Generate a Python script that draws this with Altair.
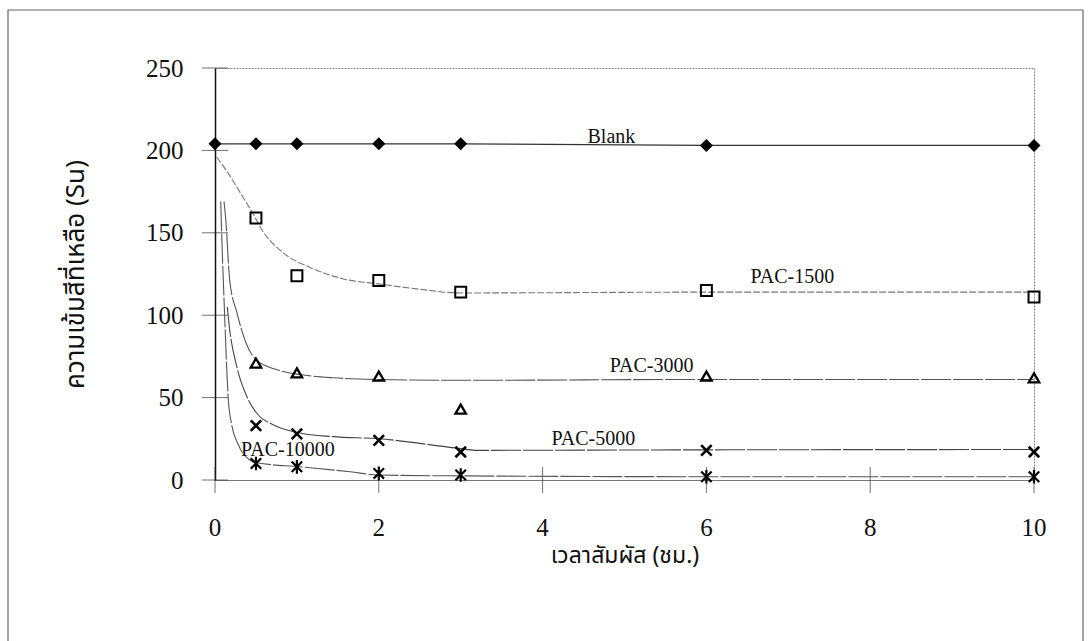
import altair as alt
import pandas as pd

# ---- data ----
time_blank = [0, 0.5, 1, 2, 3, 6, 10]
blank = [204, 204, 204, 204, 204, 203, 203]

time_pac = [0.5, 1, 2, 3, 6, 10]
pac1500 = [159, 124, 121, 114, 115, 111]
pac3000 = [71, 65, 63, 43, 63, 62]
pac5000 = [33, 28, 24, 17, 18, 17]
pac10000 = [10, 8, 4, 3, 2, 2]

# trend curves
c1500_t = [0.02, 0.15, 0.3, 0.46, 0.57, 0.83, 1.16, 1.57, 2.0, 2.46, 3.0, 6.0, 10.0]
c1500_v = [196, 187, 175, 162, 152, 138, 129, 122, 119, 116, 113.5, 114, 114]
c3000_t = [0.11, 0.13, 0.18, 0.265, 0.38, 0.5, 0.75, 1.04, 1.45, 2.0, 3.0, 6.0, 10.0]
c3000_v = [169, 159, 121, 102, 83, 73, 67, 64, 62, 61, 60.5, 61, 61]
c5000_t = [0.15, 0.18, 0.265, 0.39, 0.51, 0.71, 1.04, 1.44, 2.0, 2.93, 3.2, 6.0, 10.0]
c5000_v = [105, 91, 69, 50.5, 40.5, 33.5, 28.5, 26.3, 25, 19.5, 18, 18.3, 18.5]
c10000_t = [0.07, 0.08, 0.12, 0.14, 0.16, 0.2, 0.28, 0.43, 0.51, 1.04, 1.65, 2.0, 3.0, 6.0, 10.0]
c10000_v = [169, 152, 97, 71, 50.5, 34.5, 22, 12, 10.5, 8, 5, 3, 2.5, 2, 2]

lab_text = ["Blank", "PAC-1500", "PAC-3000", "PAC-5000", "PAC-10000"]
lab_t = [4.84, 7.05, 5.33, 4.62, 0.89]
lab_v = [208, 123, 69, 25, 18.5]

x_ticks = [0, 2, 4, 6, 8, 10]
x_tick_labels = ["0", "2", "4", "6", "8", "10"]
y_ticks = [0, 50, 100, 150, 200, 250]

x_title = "เวลาสัมผัส (ชม.)"
y_title = "ความเข้มสีที่เหลือ (Su)"

SERIF = "Liberation Serif"
THAI = "Noto Sans Thai, Loma, Garuda, Norasi, Kinnari, sans-serif"

xs = alt.Scale(domain=[0, 10], nice=False, zero=False)
ys = alt.Scale(domain=[0, 250], nice=False)

x_axis = alt.Axis(values=x_ticks, grid=False, ticks=False, labels=False,
                  domain=True, domainColor="#777", domainWidth=1,
                  title=x_title, titleFont=THAI, titleFontSize=23,
                  titleFontWeight="normal", titleColor="#111",
                  titleY=75, titleBaseline="middle")
y_axis = alt.Axis(values=y_ticks, grid=False, ticks=False,
                  domain=True, domainColor="#111", domainWidth=1.5,
                  labelFont=SERIF, labelFontSize=25, labelColor="#111",
                  labelPadding=32,
                  title=y_title, titleFont=THAI, titleFontSize=26,
                  titleFontWeight="normal", titleColor="#111",
                  titleX=-140, titleBaseline="middle")


def X(field="t"):
    return alt.X(f"{field}:Q", scale=xs, axis=x_axis)


def Y(field="v"):
    return alt.Y(f"{field}:Q", scale=ys, axis=y_axis)


def df(ts, vs):
    return pd.DataFrame({"t": ts, "v": vs})


layers = []

# outer frame (decoration)
layers.append(
    alt.Chart(pd.DataFrame({"a": [0]})).mark_rect(fill=None, stroke="#666", strokeWidth=1.2)
    .encode(x=alt.value(-207), x2=alt.value(868), y=alt.value(-58), y2=alt.value(600))
)

# crossing ticks
layers.append(
    alt.Chart(pd.DataFrame({"t": x_ticks, "v": [0] * len(x_ticks)}))
    .mark_tick(orient="vertical", size=26, thickness=1, color="#333")
    .encode(x=X(), y=Y())
)
layers.append(
    alt.Chart(pd.DataFrame({"t": [0] * len(y_ticks), "v": y_ticks}))
    .mark_tick(orient="horizontal", size=26, thickness=1, color="#333")
    .encode(x=X(), y=Y())
)

# x tick labels (drawn below the axis)
layers.append(
    alt.Chart(pd.DataFrame({"t": x_ticks, "lbl": x_tick_labels}))
    .mark_text(font=SERIF, fontSize=25, color="#111", align="center", baseline="middle")
    .encode(x=X(), y=alt.value(460), text="lbl:N")
)

# blank line
layers.append(
    alt.Chart(df(time_blank, blank)).mark_line(color="#333", strokeWidth=1.2)
    .encode(x=X(), y=Y())
)

# curves
for ts, vs, col, dash in [
    (c1500_t, c1500_v, "#777", [7, 2]),
    (c3000_t, c3000_v, "#555", [30, 2]),
    (c5000_t, c5000_v, "#444", [30, 2]),
    (c10000_t, c10000_v, "#555", [30, 2]),
]:
    layers.append(
        alt.Chart(df(ts, vs)).mark_line(color=col, strokeWidth=1.1, strokeDash=dash,
                                        interpolate="monotone")
        .encode(x=X(), y=Y())
    )

# markers
layers.append(
    alt.Chart(df(time_blank, blank)).mark_point(shape="diamond", filled=True, color="#000",
                                                size=170, opacity=1)
    .encode(x=X(), y=Y())
)
layers.append(
    alt.Chart(df(time_pac, pac1500)).mark_point(shape="square", filled=False, color="#000",
                                                size=120, strokeWidth=2, opacity=1)
    .encode(x=X(), y=Y())
)
layers.append(
    alt.Chart(df(time_pac, pac3000)).mark_point(shape="triangle-up", filled=False, color="#000",
                                                size=110, strokeWidth=2.3, opacity=1)
    .encode(x=X(), y=Y())
)
layers.append(
    alt.Chart(df(time_pac, pac5000)).mark_point(shape="M-1,-1L1,1M-1,1L1,-1", filled=False,
                                                color="#000", size=110, strokeWidth=2.6, opacity=1)
    .encode(x=X(), y=Y())
)
layers.append(
    alt.Chart(df(time_pac, pac10000)).mark_point(shape="M-1,-1L1,1M-1,1L1,-1M0,-1.3L0,1.3",
                                                 filled=False, color="#000", size=110,
                                                 strokeWidth=2.2, opacity=1)
    .encode(x=X(), y=Y())
)

# series labels
layers.append(
    alt.Chart(pd.DataFrame({"t": lab_t, "v": lab_v, "txt": lab_text}))
    .mark_text(font=SERIF, fontSize=20, color="#111", align="center", baseline="middle")
    .encode(x=X(), y=Y(), text="txt:N")
)

chart = alt.layer(*layers).properties(
    width=819, height=412,
    autosize=alt.AutoSizeParams(type="none"),
    padding={"left": 215, "top": 68, "right": 55, "bottom": 161},
    background="white",
).configure_view(
    stroke="#888", strokeDash=[2, 1], strokeWidth=1
)

chart.save("out.html", embed_options={"renderer": "svg", "actions": False})
